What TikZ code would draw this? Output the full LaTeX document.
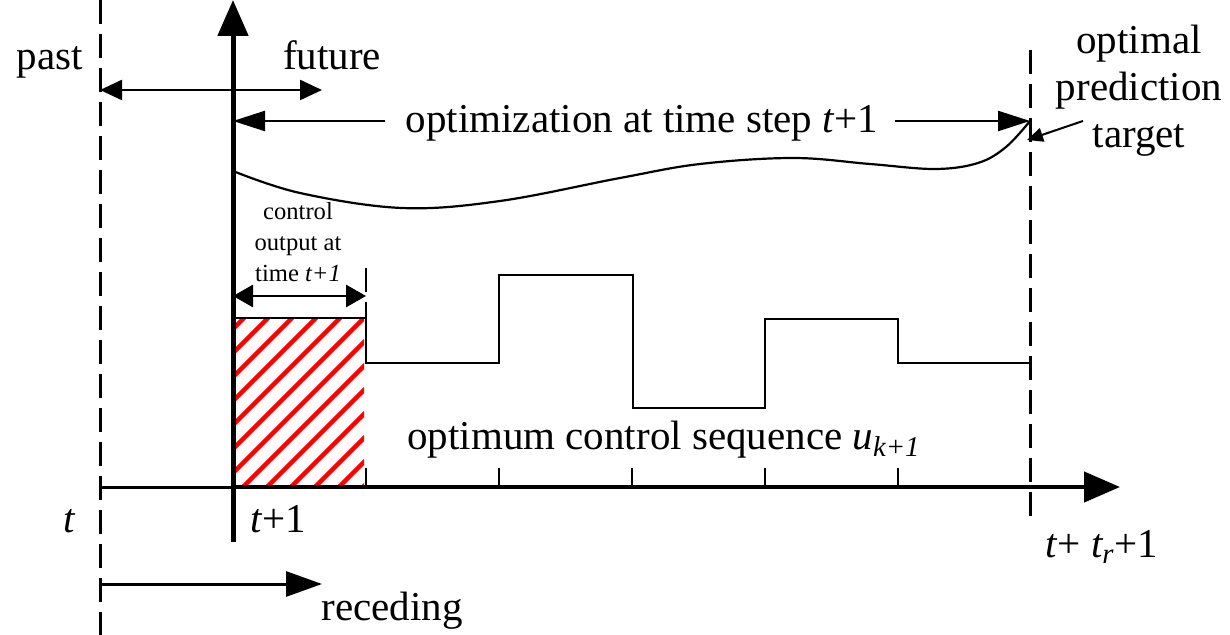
\documentclass[tikz,border=0pt]{standalone}
\usepackage{fontspec}
\setmainfont{Liberation Serif}
\usetikzlibrary{arrows.meta}
\tikzset{
  lbl/.style={font=\fontsize{20.5}{23.5}\selectfont, inner sep=0pt},
  smalltxt/.style={font=\fontsize{12.3}{15.5}\selectfont, inner sep=0pt, align=center},
  dashline/.style={line width=1.5pt, dash pattern=on 12pt off 5pt},
  bigtip/.style={-{Triangle[length=18pt,width=15pt]}},
  hatchline/.style={red, line width=2.2pt},
  stepline/.style={line width=1pt},
}
\begin{document}
\begin{tikzpicture}[x=0.5pt,y=-0.5pt]
\useasboundingbox (0,0) rectangle (1230,635);
% named points
\coordinate (tL) at (100,0);
\coordinate (bL) at (100,635);
\coordinate (tR) at (1030,50);
\coordinate (bR) at (1030,522);
\coordinate (o) at (233,487);
\coordinate (vbot) at (233,542);
\coordinate (vtop) at (233,0);
\coordinate (hleft) at (100,487);
\coordinate (hend) at (1120,487);
\coordinate (pfL) at (100,90);
\coordinate (pfR) at (322,90);
\coordinate (optL) at (233,121);
\coordinate (optR) at (1030,121);
\coordinate (rcL) at (100,584);
\coordinate (rcR) at (322,584);
\coordinate (dimL) at (233,296);
\coordinate (dimR) at (366,296);
\coordinate (leadS) at (1083,121);
\coordinate (leadE) at (1027,140);

% dashed verticals
\draw[dashline] (tL) -- (bL);
\draw[dashline] (tR) -- (bR);
\draw[dashline, line width=1.2pt] (366,268) -- (366,318);

% hatched block
\begin{scope}
  \clip (235,320) rectangle (364,485);
  \foreach \k in {-8,...,6}
    \draw[hatchline] ({243+24*\k},487) -- ++(190,-190);
\end{scope}

% step function (control sequence)
\draw[stepline] (233,318) -- (366,318) -- (366,363) -- (499,363) -- (499,275)
  -- (633,275) -- (633,408) -- (765,408) -- (765,319) -- (898,319) -- (898,363) -- (1030,363);

% ticks
\foreach \x in {366,499,632,765,898}
  \draw[line width=1.2pt] (\x,468) -- (\x,487);

% axes
\draw[line width=1.5pt] (hleft) -- (o);
\draw[line width=2.2pt, bigtip] (o) -- (hend);
\draw[line width=2.5pt, bigtip] (vbot) -- (vtop);

% predicted output curve
\draw[line width=1.1pt] plot[smooth, tension=0.6] coordinates {(233,171) (300,193) (402,208) (500,201) (620,178) (700,164) (793,158) (870,164) (935,169) (978,163) (1006,147) (1030,121)};

% past / future arrow
\draw[line width=1.2pt, {Triangle[length=11pt,width=10pt]}-{Triangle[length=11pt,width=10pt]}] (pfL) -- (pfR);

% optimization arrow
\node[lbl, anchor=base] (opt) at (642,133) {optimization at time step \textit{t}+1};
\draw[line width=1.2pt, -{Triangle[length=16pt,width=10pt]}] ([xshift=-10pt]opt.west |- optL) -- (optL);
\draw[line width=1.2pt, -{Triangle[length=16pt,width=10pt]}] ([xshift=8pt]opt.east |- optR) -- (optR);

% control output dimension arrow
\draw[line width=1.4pt, {Triangle[length=10pt,width=11pt]}-{Triangle[length=10pt,width=11pt]}] (dimL) -- (dimR);

% receding arrow
\draw[line width=1.5pt, -{Triangle[length=18pt,width=12.5pt]}] (rcL) -- (rcR);

% leader to target
\draw[line width=1pt, -{Triangle[length=8pt,width=7pt]}] (leadS) -- (leadE);

% labels
\node[lbl, anchor=base] (past) at (50,70) {past};
\node[lbl, anchor=base] (future) at (332,70) {future};
\node[lbl, anchor=base, align=center] (target) at (1139,148) {optimal\\prediction\\target};
\node[smalltxt, anchor=base] (ctrl) at (298,282) {control\\output at\\time \textit{t+1}};
\node[lbl, anchor=base] (seq) at (664,450) {optimum control sequence \textit{u}\textsubscript{\textit{k+1}}};
\node[lbl, anchor=base] (tlab) at (70,532) {\textit{t}};
\node[lbl, anchor=base west] (t1lab) at (250,532) {\textit{t}+1};
\node[lbl, anchor=base west] (trlab) at (1045,557) {\textit{t}+ \textit{t\textsubscript{r}}+1};
\node[lbl, anchor=base west] (rec) at (321,620) {receding};
\end{tikzpicture}
\end{document}
